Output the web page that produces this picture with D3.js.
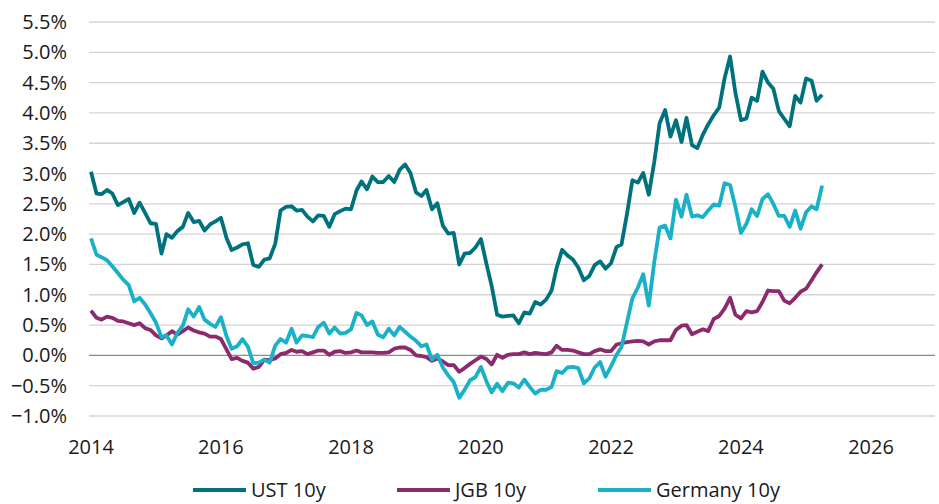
<!DOCTYPE html>
<html>
<head>
<meta charset="utf-8">
<script src="https://cdn.jsdelivr.net/npm/d3@7"></script>
<style>
  body { margin: 0; background: #fff; }
  svg text { font-family: "Open Sans", "Noto Sans", sans-serif; fill: #1a1a1a; }
</style>
</head>
<body>
<svg id="chart"></svg>
<script>
// DATA: 10y government bond yields (%), month-end, Dec 2013 .. Mar 2025

const firstMonth = new Date(2014, 0, 1);   // first point plotted at the 2014 tick

const ust10y = [
  3.03,
  2.67, 2.66, 2.73, 2.67, 2.48, 2.53, 2.58, 2.35, 2.52, 2.35, 2.18, 2.17,
  1.68, 2.00, 1.94, 2.05, 2.12, 2.35, 2.20, 2.22, 2.06, 2.16, 2.21, 2.27,
  1.94, 1.74, 1.78, 1.83, 1.85, 1.49, 1.46, 1.58, 1.60, 1.84, 2.39, 2.45,
  2.46, 2.39, 2.40, 2.29, 2.21, 2.31, 2.30, 2.12, 2.33, 2.38, 2.42, 2.41,
  2.72, 2.87, 2.74, 2.95, 2.86, 2.86, 2.96, 2.86, 3.06, 3.15, 3.01, 2.69,
  2.63, 2.73, 2.41, 2.51, 2.14, 2.01, 2.02, 1.50, 1.68, 1.69, 1.78, 1.92,
  1.51, 1.15, 0.67, 0.64, 0.65, 0.66, 0.53, 0.71, 0.69, 0.88, 0.84, 0.92,
  1.07, 1.44, 1.74, 1.65, 1.58, 1.45, 1.24, 1.31, 1.49, 1.55, 1.43, 1.52,
  1.79, 1.83, 2.34, 2.89, 2.85, 3.01, 2.65, 3.19, 3.83, 4.05, 3.61, 3.88,
  3.52, 3.92, 3.47, 3.42, 3.64, 3.81, 3.96, 4.09, 4.57, 4.93, 4.33, 3.88,
  3.91, 4.25, 4.20, 4.68, 4.50, 4.40, 4.03, 3.90, 3.78, 4.28, 4.17, 4.57,
  4.53, 4.20, 4.30
];

const jgb10y = [
  0.74,
  0.62, 0.59, 0.64, 0.62, 0.57, 0.56, 0.53, 0.50, 0.53, 0.45, 0.42, 0.33,
  0.28, 0.33, 0.40, 0.34, 0.40, 0.46, 0.41, 0.38, 0.36, 0.31, 0.31, 0.27,
  0.10, -0.06, -0.04, -0.09, -0.12, -0.22, -0.19, -0.07, -0.08, -0.05, 0.02, 0.04,
  0.09, 0.06, 0.07, 0.02, 0.05, 0.08, 0.08, 0.01, 0.06, 0.07, 0.04, 0.05,
  0.08, 0.05, 0.05, 0.05, 0.04, 0.04, 0.05, 0.11, 0.13, 0.13, 0.09, 0.00,
  -0.01, -0.03, -0.09, -0.05, -0.10, -0.16, -0.16, -0.27, -0.21, -0.14, -0.08, -0.02,
  -0.06, -0.15, 0.01, -0.04, 0.01, 0.02, 0.02, 0.05, 0.02, 0.04, 0.03, 0.02,
  0.05, 0.16, 0.09, 0.09, 0.08, 0.05, 0.02, 0.02, 0.07, 0.10, 0.07, 0.07,
  0.18, 0.20, 0.22, 0.23, 0.24, 0.23, 0.18, 0.23, 0.25, 0.25, 0.25, 0.42,
  0.49, 0.50, 0.35, 0.39, 0.43, 0.40, 0.60, 0.65, 0.77, 0.95, 0.67, 0.61,
  0.73, 0.71, 0.73, 0.88, 1.07, 1.06, 1.06, 0.90, 0.86, 0.95, 1.05, 1.10,
  1.24, 1.37, 1.50
];

const bund10y = [
  1.93,
  1.66, 1.62, 1.57, 1.47, 1.36, 1.25, 1.16, 0.89, 0.95, 0.84, 0.70, 0.54,
  0.30, 0.33, 0.18, 0.37, 0.49, 0.76, 0.64, 0.80, 0.59, 0.52, 0.47, 0.63,
  0.32, 0.11, 0.15, 0.27, 0.14, -0.13, -0.12, -0.07, -0.12, 0.16, 0.27, 0.21,
  0.44, 0.21, 0.33, 0.32, 0.30, 0.47, 0.54, 0.36, 0.46, 0.36, 0.37, 0.43,
  0.70, 0.66, 0.50, 0.56, 0.34, 0.30, 0.44, 0.33, 0.47, 0.39, 0.31, 0.24,
  0.15, 0.18, -0.07, 0.01, -0.20, -0.33, -0.44, -0.70, -0.57, -0.41, -0.36, -0.19,
  -0.43, -0.61, -0.47, -0.59, -0.45, -0.46, -0.53, -0.40, -0.52, -0.63, -0.57, -0.57,
  -0.52, -0.26, -0.29, -0.20, -0.19, -0.21, -0.46, -0.38, -0.20, -0.11, -0.35, -0.18,
  0.01, 0.14, 0.55, 0.94, 1.12, 1.34, 0.82, 1.54, 2.11, 2.14, 1.93, 2.57,
  2.29, 2.65, 2.29, 2.31, 2.28, 2.39, 2.49, 2.47, 2.84, 2.81, 2.45, 2.02,
  2.17, 2.41, 2.30, 2.58, 2.66, 2.50, 2.30, 2.30, 2.12, 2.39, 2.09, 2.36,
  2.46, 2.41, 2.80
];

const seriesNames = ['UST 10y', 'JGB 10y', 'Germany 10y'];
const seriesColors = ['#00727e', '#8b2a6d', '#18b1c8'];
const seriesValues = [ust10y, jgb10y, bund10y];

const yTicks = [-1.0, -0.5, 0.0, 0.5, 1.0, 1.5, 2.0, 2.5, 3.0, 3.5, 4.0, 4.5, 5.0, 5.5];
const xTickYears = [2014, 2016, 2018, 2020, 2022, 2024, 2026];

// LAYOUT

const width = 939;
const height = 504;

const svg = d3.select('#chart')
    .attr('width', width)
    .attr('height', height);

const x = d3.scaleTime()
    .domain([new Date(2014, 0, 1), new Date(2027, 0, 1)])
    .range([91, 936]);

const y = d3.scaleLinear()
    .domain([-1.0, 5.5])
    .range([416, 22]);

const gridLeft = 89;
const gridRight = 935;

// gridlines
svg.append('g')
    .selectAll('line')
    .data(yTicks)
    .join('line')
    .attr('x1', gridLeft)
    .attr('x2', gridRight)
    .attr('y1', d => y(d))
    .attr('y2', d => y(d))
    .attr('stroke', d => d === 0 ? '#8c8c8c' : '#d4d4d4')
    .attr('stroke-width', 1.3);

// y labels
svg.append('g')
    .selectAll('text')
    .data(yTicks)
    .join('text')
    .attr('x', 67)
    .attr('y', d => y(d))
    .attr('dy', '0.35em')
    .attr('text-anchor', 'end')
    .style('font-size', '20px')
    .text(d => d3.format('.1f')(d) + '%');

// x labels
svg.append('g')
    .selectAll('text')
    .data(xTickYears)
    .join('text')
    .attr('x', d => x(new Date(d, 0, 1)))
    .attr('y', 447)
    .attr('dy', '0.35em')
    .attr('text-anchor', 'middle')
    .style('font-size', '20px')
    .text(d => d);

// lines
const line = d3.line()
    .x((d, i) => x(d3.timeMonth.offset(firstMonth, i)))
    .y(d => y(d));

seriesValues.forEach(function(vals, idx) {
    svg.append('path')
        .datum(vals)
        .attr('d', line)
        .attr('fill', 'none')
        .attr('stroke', seriesColors[idx])
        .attr('stroke-width', 3.8)
        .attr('stroke-linejoin', 'round');
});

// legend
const legendX = [193, 397, 598];
const legend = svg.append('g')
    .selectAll('g')
    .data(seriesNames)
    .join('g')
    .attr('transform', (d, i) => `translate(${legendX[i]}, 490)`);

legend.append('line')
    .attr('x1', 0)
    .attr('x2', 53)
    .attr('stroke', (d, i) => seriesColors[i])
    .attr('stroke-width', 3.8);

legend.append('text')
    .attr('x', 58)
    .attr('dy', '0.35em')
    .style('font-size', '20px')
    .text(d => d);
</script>
</body>
</html>
